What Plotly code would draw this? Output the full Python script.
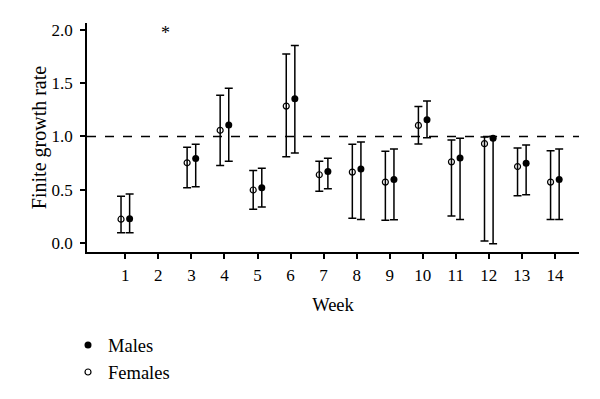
import plotly.graph_objects as go

weeks = [1, 3, 4, 5, 6, 7, 8, 9, 10, 11, 12, 13, 14]
female_mean = [0.224, 0.753, 1.058, 0.498, 1.285, 0.641, 0.666, 0.572, 1.104, 0.762, 0.933, 0.718, 0.572]
female_low = [0.096, 0.519, 0.728, 0.317, 0.809, 0.485, 0.233, 0.215, 0.930, 0.255, 0.019, 0.445, 0.221]
female_high = [0.439, 0.899, 1.387, 0.681, 1.773, 0.768, 0.927, 0.862, 1.281, 0.967, 0.995, 0.893, 0.865]
male_mean = [0.227, 0.793, 1.107, 0.519, 1.353, 0.672, 0.694, 0.597, 1.157, 0.799, 0.983, 0.750, 0.597]
male_low = [0.096, 0.529, 0.768, 0.339, 0.846, 0.510, 0.221, 0.218, 0.989, 0.221, -0.006, 0.454, 0.221]
male_high = [0.460, 0.927, 1.453, 0.703, 1.854, 0.796, 0.949, 0.883, 1.334, 0.983, 1.000, 0.921, 0.883]
tick_weeks = list(range(1, 15))
y_ticks = [0.0, 0.5, 1.0, 1.5, 2.0]
star_week = 2

offset = 0.13
FONT = "Liberation Serif"

fig = go.Figure()
fig.add_trace(go.Scatter(
    x=[w + offset for w in weeks], y=male_mean, mode="markers", name="Males",
    marker=dict(symbol="circle", size=7, color="black"),
    error_y=dict(type="data", symmetric=False,
                 array=[h - m for h, m in zip(male_high, male_mean)],
                 arrayminus=[m - l for m, l in zip(male_mean, male_low)],
                 color="black", thickness=1.5, width=4),
))
fig.add_trace(go.Scatter(
    x=[w - offset for w in weeks], y=female_mean, mode="markers", name="Females",
    marker=dict(symbol="circle-open", size=6, color="black", line=dict(width=1.2)),
    error_y=dict(type="data", symmetric=False,
                 array=[h - m for h, m in zip(female_high, female_mean)],
                 arrayminus=[m - l for m, l in zip(female_mean, female_low)],
                 color="black", thickness=1.5, width=4),
))

fig.add_shape(type="line", xref="paper", x0=0, x1=1, yref="y", y0=1, y1=1,
              line=dict(color="black", width=1.5, dash="dash"))

fig.add_annotation(x=star_week + 0.21, y=1.975, text="*", showarrow=False,
                   font=dict(family=FONT, size=18, color="black"))

fig.update_layout(
    width=600, height=399,
    margin=dict(l=79, r=29, t=15, b=154.5, autoexpand=False),
    paper_bgcolor="white", plot_bgcolor="white",
    font=dict(family=FONT, size=17, color="black"),
    showlegend=True,
    legend=dict(x=-0.0386, y=-0.325, xanchor="left", yanchor="top",
                font=dict(family=FONT, size=18.5, color="black"),
                itemsizing="trace", tracegroupgap=0),
    xaxis=dict(range=[-0.16, 14.73], tickmode="array", tickvals=tick_weeks,
               ticktext=[str(t) for t in tick_weeks],
               showgrid=False, zeroline=False, showline=True, linecolor="black",
               linewidth=1.5, ticks="outside", ticklen=5, tickwidth=1.5, tickcolor="black",
               ticklabelstandoff=2, automargin=False,
               title=dict(text="Week", standoff=14, font=dict(family=FONT, size=18.5))),
    yaxis=dict(range=[-0.084, 2.065], tickmode="array", tickvals=y_ticks,
               tickformat=".1f", showgrid=False, zeroline=False, showline=True,
               linecolor="black", linewidth=1.5, ticks="outside", ticklen=5,
               tickwidth=1.5, tickcolor="black", ticklabelstandoff=4, automargin=False,
               title=dict(text="Finite growth rate", standoff=0,
                          font=dict(family=FONT, size=20))),
)

fig.write_html("out.html")
